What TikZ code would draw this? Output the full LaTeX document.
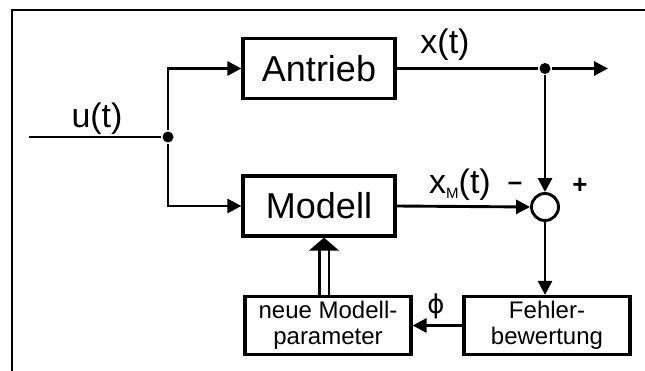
\documentclass[tikz,border=0pt]{standalone}
\usepackage{fontspec}
\setmainfont{Liberation Sans}
\newfontfamily\symfont{DejaVu Sans}
\usetikzlibrary{arrows.meta,calc}
\begin{document}
\begin{tikzpicture}[x=1pt,y=-1pt,line width=2.9pt,
  blk/.style={draw,line width=3.2pt,minimum width=152pt,minimum height=60pt,inner sep=0pt,
    font=\fontsize{36}{40}\selectfont},
  sblk/.style={draw,line width=3.2pt,minimum width=166pt,minimum height=58pt,inner sep=0pt,
    align=center,font=\fontsize{24}{26}\selectfont},
  lbl/.style={inner sep=0pt,font=\fontsize{34}{36}\selectfont},
  sig/.style={-{Triangle[length=14pt,width=14pt]}},
  dot/.style={circle,fill,inner sep=0pt,minimum size=11pt}]
\useasboundingbox (0,0) rectangle (645,371);
% frame (top and left edges only)
\draw (12,371) -- (12,10) -- (645,10);

% blocks
\node[blk] (antrieb) at (319,68.5) {Antrieb};
\node[blk] (modell) at (319,206) {Modell};
\node[sblk] (neue) at (328,325.5) {neue Modell-\\parameter};
\node[sblk] (fehler) at (547,325.5) {Fehler-\\bewertung};
\node[draw,circle,minimum size=27pt,inner sep=0pt] (sum) at (545,207) {};

% branch points and free ends
\coordinate (in) at (29,137);
\node[dot] (split) at (168,137) {};
\node[dot] (tap) at (545,68.5) {};
\coordinate (out) at (608,68.5);

% signal lines
\draw (in) -- (split);
\draw[sig] (split) |- (antrieb.west);
\draw[sig] (split) |- (modell.west);
\draw (antrieb.east) -- (tap);
\draw[sig] (tap) -- (out);
\draw[sig] (tap) -- (sum.north);
\draw[sig] (modell.east) -- (sum.west);
\draw[sig] (sum.south) -- (sum.south |- fehler.north);
\draw[sig] (fehler.west) -- (neue.east);

% parameter update (double arrow)
\draw[line width=2.6pt,double distance=7pt] ($(neue.north)+(-4,0)$) -- ($(modell.south)+(5,12)$);
\fill ($(modell.south)+(5,0)$) -- ++(15,13) -- ++(-30,0) -- cycle;

% labels
\node[lbl] at (97,119) {u(t)};
\node[lbl] at (445,45) {x(t)};
\node[lbl] at (460,185) {x{\fontsize{15}{15}\selectfont\raisebox{-5pt}{M}}(t)};
\node[inner sep=0pt,font=\fontsize{26}{28}\selectfont\bfseries] at (515,186) {–};
\node[inner sep=0pt,font=\fontsize{26}{28}\selectfont\bfseries] at (580,186) {+};
\node[inner sep=0pt,font=\symfont\fontsize{26}{28}\selectfont] at (436,306) {\symbol{"03D5}};
\end{tikzpicture}
\end{document}
